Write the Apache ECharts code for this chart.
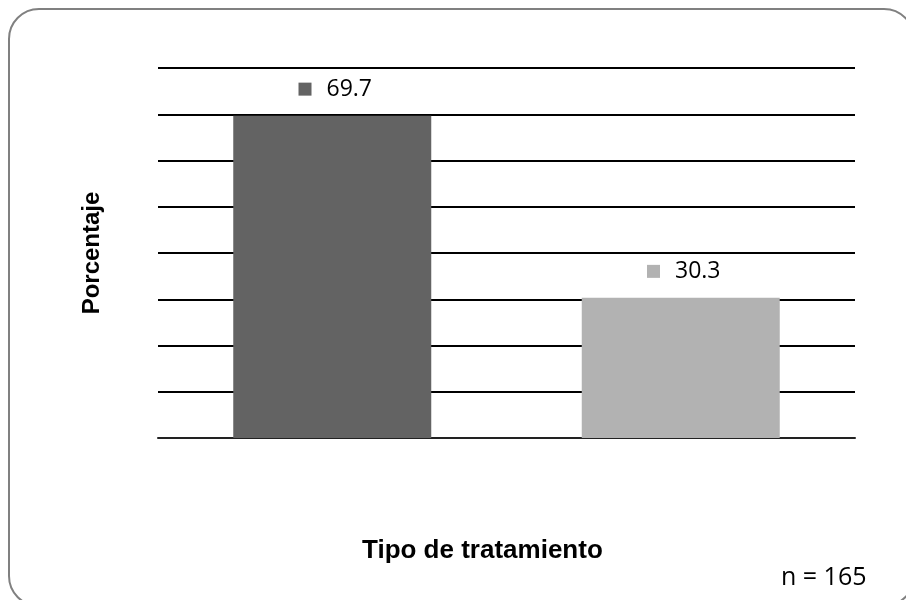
<!DOCTYPE html>
<html>
<head>
<meta charset="utf-8">
<script src="https://cdn.jsdelivr.net/npm/echarts@6/dist/echarts.min.js"></script>
<style>
  html, body { margin: 0; padding: 0; background: #fff; }
  #chart { width: 906px; height: 600px; }
</style>
</head>
<body>
<div id="chart"></div>
<script>
// tipos de tratamiento (sin nombre visible en el original)
const categories = ['A', 'B']
const values = [69.7, 30.3]
const barColors = ['#636363', '#b2b2b2']
const yMax = 80
const yStep = 10

const chart = echarts.init(document.getElementById('chart'))

const labelFont = 'Open Sans'

const option = {
  animation: false,
  backgroundColor: '#fff',
  title: [
    {
      text: 'Tipo de tratamiento',
      left: 357,
      top: 533,
      textStyle: { fontFamily: 'Liberation Sans', fontWeight: 'bold', fontSize: 26, color: '#000' }
    },
    {
      text: 'n = 165',
      left: 776,
      top: 560,
      textStyle: { fontFamily: labelFont, fontWeight: 'normal', fontSize: 25, color: '#000' }
    }
  ],
  graphic: [
    {
      type: 'rect',
      shape: { x: 9, y: 9, width: 905, height: 597, r: 30 },
      style: { fill: 'none', stroke: '#808080', lineWidth: 2 },
      silent: true,
      z: -1
    }
  ],
  grid: { left: 158, right: 51, top: 68, bottom: 162 },
  xAxis: {
    type: 'category',
    data: categories,
    axisTick: { show: false },
    axisLabel: { show: false },
    axisLine: { lineStyle: { color: '#222', width: 2 } }
  },
  yAxis: {
    type: 'value',
    min: 0,
    max: yMax,
    interval: yStep,
    name: 'Porcentaje',
    nameLocation: 'middle',
    nameGap: 54,
    nameTextStyle: { fontFamily: 'Liberation Sans', fontWeight: 'bold', fontSize: 24, color: '#000' },
    axisLabel: { show: false },
    axisTick: { show: false },
    axisLine: { show: false },
    splitLine: { lineStyle: { color: '#000', width: 2 } }
  },
  series: [
    {
      type: 'bar',
      barWidth: 198,
      data: values.map((v, i) => ({
        value: v,
        itemStyle: { color: barColors[i] },
        label: {
          rich: {
            sq: { width: 13, height: 13, backgroundColor: barColors[i] },
            v: { fontFamily: labelFont, fontSize: 23, color: '#000', padding: [0, 0, 0, 15] }
          }
        }
      })),
      label: {
        show: true,
        position: 'top',
        distance: 15,
        offset: [3, 0],
        formatter: (p) => '{sq|}{v|' + p.value + '}'
      }
    }
  ]
}

chart.setOption(option)
</script>
</body>
</html>
